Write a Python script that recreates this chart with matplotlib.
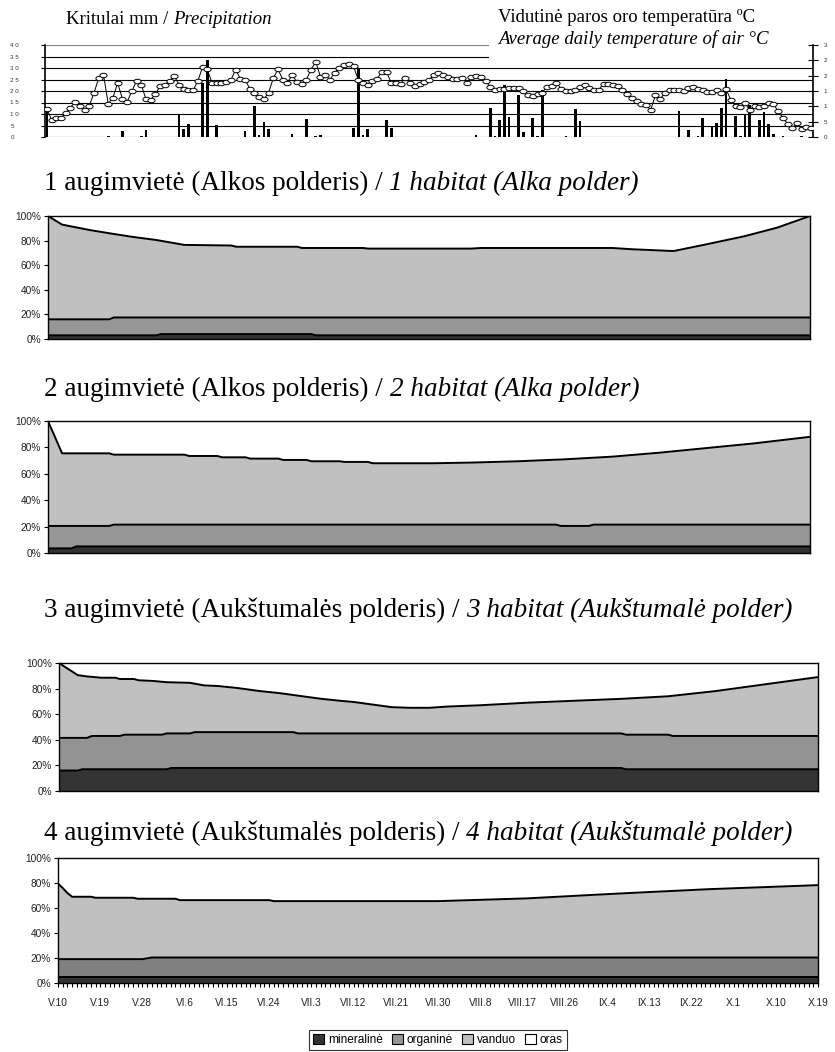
import matplotlib
matplotlib.use("Agg")
import matplotlib.pyplot as plt
from matplotlib.patches import Patch
from matplotlib.path import Path

W, H = 835, 1052

# ---------------- data ----------------
date_labels = ["V.10", "V.19", "V.28", "VI.6", "VI.15", "VI.24", "VII.3", "VII.12",
               "VII.21", "VII.30", "VIII.8", "VIII.17", "VIII.26", "IX.4", "IX.13",
               "IX.22", "X.1", "X.10", "X.19"]

# average daily air temperature, degC (V.10 ... X.19)
temperature = [
    9.0, 5.7, 6.3, 6.3, 7.8, 9.6, 11.5, 10.0, 8.7, 10.2,
    14.5, 19.2, 20.3, 10.9, 12.8, 17.6, 12.5, 11.4, 14.9, 18.3,
    17.1, 12.3, 12.2, 13.9, 16.7, 16.9, 18.3, 19.9, 17.1, 15.8,
    15.2, 15.2, 18.3, 22.8, 22.1, 17.6, 17.7, 17.7, 17.9, 18.5,
    22.0, 19.0, 18.7, 15.8, 14.3, 13.0, 12.3, 14.5, 19.2, 22.1,
    18.7, 17.7, 20.3, 17.9, 17.2, 18.7, 22.0, 24.5, 19.6, 20.3,
    18.7, 21.0, 22.6, 23.4, 23.9, 23.0, 18.7, 17.6, 17.1, 18.3,
    19.0, 21.2, 21.2, 17.6, 17.6, 17.4, 19.2, 17.6, 16.5, 17.4,
    17.9, 18.5, 20.3, 20.9, 20.3, 19.6, 18.8, 18.8, 19.2, 17.7,
    19.6, 19.9, 19.6, 18.3, 16.3, 15.4, 15.8, 15.8, 16.1, 16.1,
    16.1, 15.0, 13.6, 13.3, 13.9, 14.5, 16.3, 16.5, 17.6, 15.8,
    14.9, 15.0, 15.2, 16.3, 16.9, 16.1, 15.4, 15.4, 17.4, 17.4,
    16.9, 16.5, 15.2, 13.9, 12.7, 11.6, 10.7, 10.3, 8.9, 13.6,
    12.3, 14.5, 15.2, 15.4, 15.4, 15.0, 16.1, 16.3, 15.8, 15.2,
    14.7, 14.7, 15.2, 14.3, 15.5, 12.0, 10.0, 9.8, 11.1, 8.7,
    10.0, 9.8, 10.0, 11.1, 10.7, 8.5, 6.3, 4.3, 2.9, 4.5,
    2.5, 3.2, 3.0,
]
days = list(range(len(temperature)))

# precipitation, mm (day index from V.10)
rain_days = [0, 13, 16, 20, 21, 28, 29, 30, 33, 34, 36, 42, 44, 45, 46, 47, 52, 55,
             57, 58, 65, 66, 67, 68, 72, 73, 91, 94, 95, 96, 97, 98, 100, 101, 103,
             104, 105, 110, 112, 113, 134, 136, 138, 139, 141, 142, 143, 144, 146,
             147, 148, 149, 151, 152, 153, 154, 156, 160]
rain_mm = [11.5, 0.6, 2.5, 0.6, 2.9, 10.1, 3.3, 5.5, 23.5, 33.3, 5.2, 2.5, 13.3, 0.7,
           6.5, 3.6, 1.2, 7.7, 0.3, 0.7, 3.9, 29.4, 1.0, 3.3, 7.2, 3.9, 0.7, 12.8,
           0.4, 7.5, 22.5, 8.7, 18.4, 2.2, 8.3, 0.4, 20.6, 0.4, 12.3, 6.8, 11.2, 3.0,
           0.4, 8.3, 4.3, 6.3, 12.8, 25.4, 9.0, 0.4, 10.1, 14.0, 7.5, 10.9, 5.5, 1.2,
           0.6, 0.4]

# habitat composition: (day, upper edge of the band in %)
h1_water = [(0, 100), (3, 93), (9, 88.5), (13, 86), (18, 83), (23, 80.5), (29, 76.5),
            (39, 76), (40, 75), (53, 75), (54, 74), (67, 74), (68, 73.5), (90, 73.5),
            (92, 74), (120, 74), (124, 73), (130, 72), (133, 71.5), (140, 77),
            (148, 83.5), (155, 90.5), (162, 100)]
h1_organic = [(0, 16), (13, 16), (14, 17.5), (162, 17.5)]
h1_mineral = [(0, 3), (23, 3), (24, 4), (56, 4), (57, 3), (162, 3)]

h2_water = [(0, 100), (3, 75.5), (13, 75.5), (14, 74.5), (29, 74.5), (30, 73.5),
            (36, 73.5), (37, 72.5), (42, 72.5), (43, 71.5), (49, 71.5), (50, 70.5),
            (55, 70.5), (56, 69.5), (62, 69.5), (63, 69), (68, 69), (69, 68), (82, 68),
            (90, 68.5), (100, 69.5), (110, 71), (120, 73), (130, 76), (140, 79.5),
            (150, 83), (162, 88)]
h2_organic = [(0, 20.5), (13, 20.5), (14, 21.5), (108, 21.5), (109, 20.5), (115, 20.5),
              (116, 21.5), (162, 21.5)]
h2_mineral = [(0, 3.5), (5, 3.5), (6, 5), (162, 5)]

h3_water = [(0, 100), (4, 90.5), (6, 89.5), (9, 88.5), (12, 88.5), (13, 87.5), (16, 87.5),
            (17, 86.5), (20, 86), (23, 85), (28, 84.5), (31, 82.5), (34, 82), (38, 80.5),
            (43, 78), (47, 76.5), (50, 75), (53, 73.5), (56, 72), (60, 70.5), (63, 69.5),
            (65, 68.5), (68, 67), (71, 65.5), (75, 65), (79, 65), (83, 66), (90, 67),
            (100, 69), (110, 70.5), (120, 72), (130, 74), (140, 78), (150, 83), (162, 89)]
h3_organic = [(0, 41.5), (6, 41.5), (7, 43), (13, 43), (14, 44), (22, 44), (23, 45),
              (28, 45), (29, 46), (50, 46), (51, 45), (120, 45), (121, 44), (130, 44),
              (131, 43), (162, 43)]
h3_mineral = [(0, 16), (4, 16), (5, 17), (23, 17), (24, 18), (120, 18), (121, 17),
              (162, 17)]

h4_water = [(0, 79.6), (1, 76), (2, 72), (3, 69), (7, 69), (8, 68.2), (16, 68.2),
            (17, 67.4), (25, 67.4), (26, 66.3), (45, 66.3), (46, 65.5), (81, 65.5),
            (100, 67.7), (113, 70.3), (124, 72.4), (139, 75.1), (152, 76.9), (162, 78.3)]
h4_organic = [(0, 19.1), (18, 19.1), (20, 20.4), (162, 20.4)]
h4_mineral = [(0, 4.8), (162, 4.8)]

titles = [
    ("1 augimvietė (Alkos polderis) / ", "1 habitat (Alka polder)"),
    ("2 augimvietė (Alkos polderis) / ", "2 habitat (Alka polder)"),
    ("3 augimvietė (Aukštumalės polderis) / ", "3 habitat (Aukštumalė polder)"),
    ("4 augimvietė (Aukštumalės polderis) / ", "4 habitat (Aukštumalė polder)"),
]
legend_labels = ["mineralinė", "organinė", "vanduo", "oras"]

# ---------------- figure ----------------
plt.rcParams["font.family"] = ["Liberation Sans", "DejaVu Sans"]
fig = plt.figure(figsize=(W / 100, H / 100), dpi=100)
renderer = fig.canvas.get_renderer()


def px_axes(x0, y0, x1, y1):
    return fig.add_axes([x0 / W, 1 - y1 / H, (x1 - x0) / W, (y1 - y0) / H])


def two_part_text(x, y, plain, italic, size):
    # upright part followed by italic part on the same baseline
    t = fig.text(x / W, 1 - y / H, plain, family="Liberation Serif", size=size,
                 va="baseline", ha="left")
    bb = t.get_window_extent(renderer)
    fig.text(bb.x1 / fig.bbox.width, 1 - y / H, italic, family="Liberation Serif",
             style="italic", size=size, va="baseline", ha="left")


# ---- precipitation + temperature ----
ax = px_axes(45, 45, 813, 137)
ax.bar(rain_days, rain_mm, width=0.55, color="black", zorder=2)
for yv in range(0, 31, 5):
    ax.axhline(yv, color="black", lw=0.8, zorder=1)
ax.axhline(35, xmax=0.577, color="black", lw=0.8)
ax.axhline(40, xmax=0.577, color="#808080", lw=0.8)
ax.set_xlim(-0.4, 162.4)
ax.set_ylim(0, 40)
ax.set_xticks([])
ax.set_yticks(range(0, 41, 5))
ax.set_yticklabels(["0", "5", "1 0", "1 5", "2 0", "2 5", "3 0", "3 5", "4 0"],
                   fontsize=4.5, color="#333333")
ax.tick_params(axis="y", length=3, width=0.8, pad=22)
for lbl in ax.get_yticklabels():
    lbl.set_horizontalalignment("left")
for s in ("top", "right", "bottom"):
    ax.spines[s].set_visible(False)
ax.spines["left"].set_linewidth(1.2)

ax2 = ax.twinx()
circ = Path.unit_circle()
ellipse = Path(circ.vertices * [1.0, 0.62], circ.codes)
ax2.plot(days, temperature, color="black", lw=0.7, marker=ellipse, markersize=5.2,
         mfc="white", mec="black", mew=0.7, zorder=3)
ax2.set_ylim(0, 30)
ax2.set_yticks(range(0, 31, 5))
ax2.set_yticklabels(["0", "5", "1", "1", "2", "2", "3"], fontsize=4.5, color="#333333")
ax2.tick_params(axis="y", direction="inout", length=7, width=0.8, pad=4)
for s in ("top", "left", "bottom"):
    ax2.spines[s].set_visible(False)
ax2.spines["right"].set_linewidth(1.2)

two_part_text(66, 24, "Kritulai mm / ", "Precipitation", 13.5)
fig.text(498 / W, 1 - 22 / H, "Vidutinė paros oro temperatūra ºC",
         family="Liberation Serif", size=13.5, va="baseline")
fig.text(498 / W, 1 - 44 / H, "Average daily temperature of air °C",
         family="Liberation Serif", style="italic", size=13.5, va="baseline")

# ---- habitat charts ----
C_MIN, C_WATER = "#333333", "#c0c0c0"
charts = [
    ((48, 216, 810, 339), 190, h1_water, h1_organic, h1_mineral, "#969696"),
    ((48, 421, 810, 553), 396, h2_water, h2_organic, h2_mineral, "#969696"),
    ((59, 663, 818, 791), 617, h3_water, h3_organic, h3_mineral, "#939393"),
    ((58, 858, 818, 983), 840, h4_water, h4_organic, h4_mineral, "#808080"),
]
for i, (rect, ty, water, organic, mineral, c_org) in enumerate(charts):
    hx = px_axes(*rect)
    for band, color in ((water, C_WATER), (organic, c_org), (mineral, C_MIN)):
        d = [p[0] for p in band]
        v = [p[1] for p in band]
        hx.fill_between(d, 0, v, color=color, lw=0)
        hx.plot(d, v, color="black", lw=1.4, solid_joinstyle="round")
    hx.set_xlim(0, 162)
    hx.set_ylim(0, 100)
    hx.set_yticks(range(0, 101, 20))
    hx.set_yticklabels([f"{v}%" for v in range(0, 101, 20)], fontsize=7.3,
                       color="#222222")
    hx.tick_params(axis="y", length=3, width=0.8, pad=2)
    for s in hx.spines.values():
        s.set_linewidth(1.0)
    if i == 3:
        hx.set_xticks(range(0, 163, 9))
        hx.set_xticklabels(date_labels, fontsize=7.3, color="#222222")
        hx.set_xticks(range(0, 163), minor=True)
        hx.tick_params(axis="x", which="both", length=3, width=0.8, pad=8)
    else:
        hx.set_xticks([])
    two_part_text(44, ty, titles[i][0], titles[i][1], 19.5)

handles = [Patch(facecolor=c, edgecolor="black", lw=0.8)
           for c in (C_MIN, "#969696", C_WATER, "white")]
leg = fig.legend(handles, legend_labels, loc="upper center",
                 bbox_to_anchor=(438 / W, 1 - 1024 / H), ncol=4, fontsize=8.6,
                 frameon=True, fancybox=False, edgecolor="black",
                 handlelength=0.9, handleheight=0.9, handletextpad=0.3,
                 columnspacing=0.8, borderpad=0.35)
leg.get_frame().set_linewidth(0.8)

fig.savefig("out.png", dpi=100)
